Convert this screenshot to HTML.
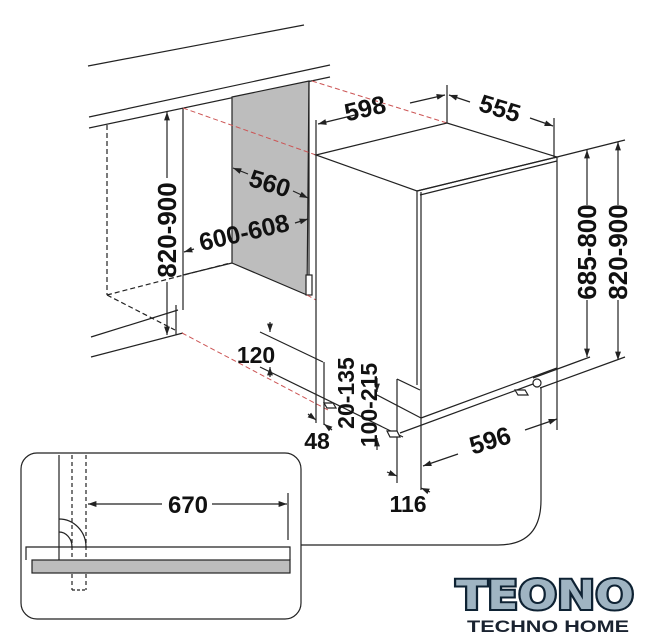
<!DOCTYPE html>
<html><head><meta charset="utf-8"><style>
html,body{margin:0;padding:0;background:#fff;}
svg{display:block;}
text{font-family:"Liberation Sans",sans-serif;font-weight:bold;fill:#111;}
</style></head><body>
<svg width="646" height="640" viewBox="0 0 646 640" xmlns="http://www.w3.org/2000/svg">
<defs>
<marker id="a" viewBox="0 0 10 10" refX="10" refY="5" markerWidth="7" markerHeight="7" orient="auto-start-reverse"><path d="M0,1.5 L10,5 L0,8.5z" fill="#222"/></marker>
</defs>
<g stroke="#222" stroke-width="1.2" fill="none">
<line x1="88" y1="66" x2="304" y2="25"/>
<line x1="89" y1="117" x2="330" y2="65"/>
<line x1="89" y1="128" x2="330" y2="77"/>
<line x1="107" y1="125" x2="107" y2="295" stroke-dasharray="5,3"/>
<line x1="107" y1="295" x2="230" y2="263" stroke-dasharray="5,3"/>
<line x1="107" y1="295" x2="175" y2="330" stroke-dasharray="5,3"/>
<line x1="183" y1="108" x2="183" y2="310"/>
<line x1="183" y1="275" x2="232" y2="263"/>
<line x1="91" y1="337" x2="178" y2="310"/>
<line x1="91" y1="357" x2="183" y2="333"/>
<line x1="176" y1="305" x2="176" y2="335"/>
<polygon points="232,97 309,81 307,295 232,263" fill="#bdbdbd"/>
<line x1="309" y1="81" x2="309" y2="275"/>
<rect x="306" y="275" width="6" height="20" fill="#fff"/>
<g stroke="#c55" stroke-dasharray="5,3" stroke-width="1">
<line x1="183" y1="108" x2="316" y2="155"/>
<line x1="312" y1="81" x2="447" y2="123"/>
<line x1="182" y1="333" x2="328" y2="410"/>
<line x1="307" y1="295" x2="316" y2="300"/>
</g>
<polygon points="316,155 447,123 557,157 417,191" fill="#fff"/>
<line x1="316" y1="155" x2="316" y2="423"/>
<line x1="324" y1="362" x2="324" y2="425"/>
<line x1="417" y1="191" x2="417" y2="385"/>
<line x1="421" y1="192" x2="421" y2="490"/>
<line x1="417" y1="191" x2="557" y2="157"/>
<line x1="420" y1="195" x2="557" y2="161"/>
<line x1="557" y1="157" x2="557" y2="430"/>
<line x1="421" y1="418" x2="557" y2="368"/>
<line x1="397" y1="379" x2="397" y2="483"/>
<line x1="397" y1="379" x2="420" y2="390"/>
<line x1="400" y1="433" x2="533" y2="384"/>
<line x1="260" y1="332" x2="323" y2="362"/>
<line x1="260" y1="367" x2="403" y2="437"/>
<line x1="377" y1="395" x2="421" y2="418"/>
<path d="M324,403 h9 l3,5 h-9z" fill="#fff"/>
<path d="M387,431 h10 l3,6 h-10z" fill="#fff"/>
<path d="M515,390 h10 l3,5 h-10z" fill="#fff"/>
<circle cx="537" cy="383" r="4" fill="#fff"/>
<line x1="557" y1="157" x2="625" y2="140"/>
<line x1="533" y1="378" x2="590" y2="357"/>
<line x1="540" y1="388" x2="625" y2="357"/>
<line x1="316" y1="120" x2="316" y2="155"/>
<line x1="447" y1="85" x2="447" y2="123"/>
<line x1="554" y1="118" x2="554" y2="157"/>
<line x1="318" y1="124" x2="355" y2="115" marker-start="url(#a)"/>
<line x1="410" y1="103" x2="445" y2="95" marker-end="url(#a)"/>
<line x1="449" y1="95" x2="470" y2="102" marker-start="url(#a)"/>
<line x1="530" y1="118" x2="553" y2="126" marker-end="url(#a)"/>
<line x1="587" y1="150" x2="587" y2="205" marker-start="url(#a)"/>
<line x1="587" y1="300" x2="587" y2="357" marker-end="url(#a)"/>
<line x1="618" y1="142" x2="618" y2="205" marker-start="url(#a)"/>
<line x1="618" y1="300" x2="618" y2="360" marker-end="url(#a)"/>
<line x1="167" y1="112" x2="167" y2="178" marker-start="url(#a)"/>
<line x1="167" y1="282" x2="167" y2="335" marker-end="url(#a)"/>
<line x1="233" y1="168" x2="248" y2="174" marker-start="url(#a)"/>
<line x1="293" y1="191" x2="308" y2="198" marker-end="url(#a)"/>
<line x1="184" y1="252" x2="194" y2="249" marker-start="url(#a)"/>
<line x1="295" y1="223" x2="308" y2="219" marker-end="url(#a)"/>
<line x1="270" y1="322" x2="270" y2="332" marker-end="url(#a)"/>
<line x1="270" y1="377" x2="270" y2="367" marker-end="url(#a)"/>
<line x1="308" y1="414" x2="316" y2="420" marker-end="url(#a)"/>
<line x1="332" y1="430" x2="324" y2="424" marker-end="url(#a)"/>
<line x1="377" y1="378" x2="377" y2="392" marker-end="url(#a)"/>
<line x1="377" y1="450" x2="377" y2="438" marker-end="url(#a)"/>
<line x1="387" y1="472" x2="397" y2="476" marker-end="url(#a)"/>
<line x1="430" y1="492" x2="421" y2="488" marker-end="url(#a)"/>
<line x1="423" y1="466" x2="458" y2="454" marker-start="url(#a)"/>
<line x1="525" y1="430" x2="557" y2="419" marker-end="url(#a)"/>
<path d="M301,545 L498,545 Q541,545 541,500 L541,387"/>
<rect x="21" y="453" width="280" height="166" rx="16" ry="16" fill="none"/>
<line x1="59" y1="455" x2="59" y2="560"/>
<line x1="72" y1="455" x2="72" y2="590" stroke-dasharray="4,3"/>
<line x1="86" y1="455" x2="86" y2="590" stroke-dasharray="4,3"/>
<line x1="72" y1="590" x2="86" y2="590" stroke-dasharray="3,2"/>
<path d="M59,519 A27,28 0 0 1 86,547"/>
<path d="M59,532 A13,15 0 0 1 72,547"/>
<polyline points="26,560 26,547 290,547 290,560"/>
<rect x="32" y="560" width="258" height="13" fill="#bdbdbd"/>
<line x1="288" y1="493" x2="288" y2="540"/>
<line x1="88" y1="504" x2="162" y2="504" marker-start="url(#a)"/>
<line x1="212" y1="504" x2="287" y2="504" marker-end="url(#a)"/>
</g>
<text x="365" y="117" font-size="25" text-anchor="middle" transform="rotate(-13 365 108)">598</text>
<text x="500" y="117" font-size="25" text-anchor="middle" transform="rotate(17 500 108)">555</text>
<text x="270" y="192" font-size="25" text-anchor="middle" transform="rotate(17 270 183)">560</text>
<text x="244" y="241" font-size="25" text-anchor="middle" transform="rotate(-13 244 232)">600-608</text>
<text x="167" y="239" font-size="26" text-anchor="middle" transform="rotate(-90 167 230)">820-900</text>
<text x="587" y="261" font-size="26" text-anchor="middle" transform="rotate(-90 587 252)">685-800</text>
<text x="618" y="261" font-size="26" text-anchor="middle" transform="rotate(-90 618 252)">820-900</text>
<text x="256" y="363" font-size="23" text-anchor="middle">120</text>
<text x="317" y="449" font-size="23" text-anchor="middle">48</text>
<text x="346" y="401" font-size="23" text-anchor="middle" transform="rotate(-90 346 393)">20-135</text>
<text x="369" y="413" font-size="23" text-anchor="middle" transform="rotate(-90 369 405)">100-215</text>
<text x="490" y="449" font-size="25" text-anchor="middle" transform="rotate(-17 490 440)">596</text>
<text x="408" y="512" font-size="23" text-anchor="middle">116</text>
<text x="188" y="513" font-size="24" text-anchor="middle">670</text>
<text x="545" y="609" font-size="40" text-anchor="middle" textLength="178" lengthAdjust="spacingAndGlyphs" style="fill:#9fb4c2;stroke:#0e2233;stroke-width:4;paint-order:stroke;font-family:'DejaVu Sans',sans-serif;font-weight:bold">TEONO</text>
<text x="548" y="632" font-size="17" text-anchor="middle" textLength="162" lengthAdjust="spacingAndGlyphs" style="fill:#1a2330">TECHNO HOME</text>
</svg>
</body></html>
